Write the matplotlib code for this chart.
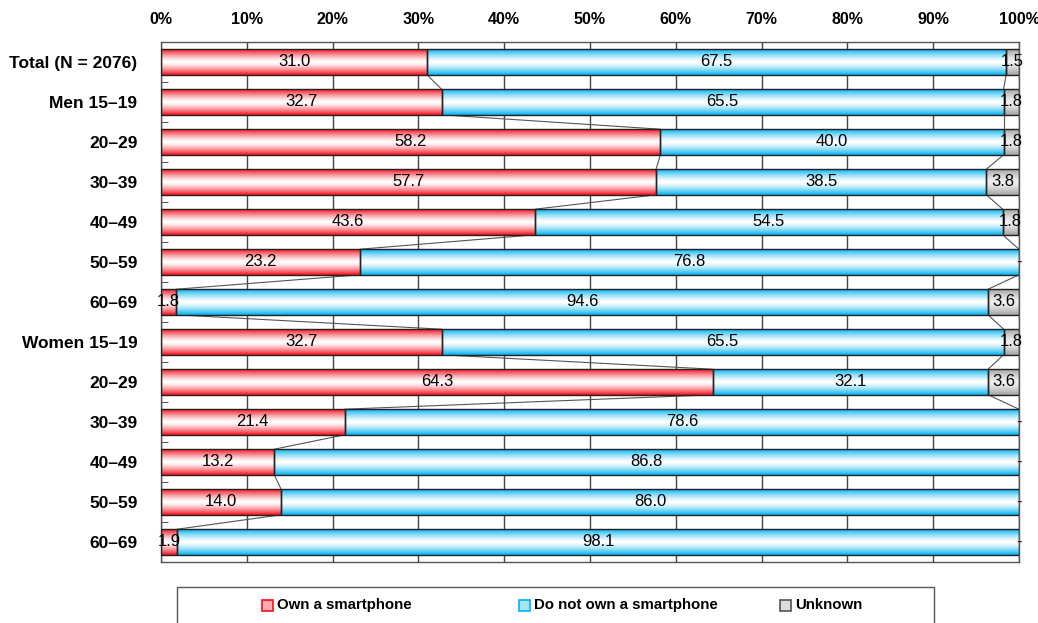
import numpy as np
import matplotlib
matplotlib.use("Agg")
import matplotlib.pyplot as plt
from matplotlib.patches import Rectangle
from matplotlib.colors import to_rgb

plt.rcParams['font.family'] = ['Liberation Sans', 'DejaVu Sans']

categories = ["Total (N = 2076)", "Men 15–19", "20–29", "30–39", "40–49", "50–59", "60–69",
              "Women 15–19", "20–29", "30–39", "40–49", "50–59", "60–69"]
own = [31.0, 32.7, 58.2, 57.7, 43.6, 23.2, 1.8, 32.7, 64.3, 21.4, 13.2, 14.0, 1.9]
not_own = [67.5, 65.5, 40.0, 38.5, 54.5, 76.8, 94.6, 65.5, 32.1, 78.6, 86.8, 86.0, 98.1]
unknown = [1.5, 1.8, 1.8, 3.8, 1.8, 0.0, 3.6, 1.8, 3.6, 0.0, 0.0, 0.0, 0.0]
series_names = ["Own a smartphone", "Do not own a smartphone", "Unknown"]
x_ticks = list(range(0, 101, 10))

edge_colors = ["#f5101c", "#00b2ef", "#a0a0a0"]
mid_colors = ["#ffffff", "#ffffff", "#f0f0f0"]

W, H = 1038, 623
fig = plt.figure(figsize=(W / 100, H / 100), dpi=100)
ax = fig.add_axes([161 / W, 1 - 562 / H, 858 / W, 520 / H])

n = len(categories)
bar_h = 0.64


def gradient(edge, mid, rows=64):
    e = np.array(to_rgb(edge))
    m = np.array(to_rgb(mid))
    t = np.abs(np.linspace(-1, 1, rows))
    w = t ** 1.4
    img = m[None, :] * (1 - w[:, None]) + e[None, :] * w[:, None]
    return img[:, None, :]


grads = [gradient(e, m) for e, m in zip(edge_colors, mid_colors)]

for i in range(n):
    vals = [own[i], not_own[i], unknown[i]]
    left = 0.0
    for k, v in enumerate(vals):
        if v > 0:
            y0, y1 = i - bar_h / 2, i + bar_h / 2
            ax.imshow(grads[k], extent=(left, left + v, y1, y0), aspect='auto',
                      interpolation='bilinear', zorder=2)
            ax.add_patch(Rectangle((left, y0), v, bar_h, fill=False,
                                   edgecolor="#222222", lw=1.0, zorder=3))
            ax.text(left + v / 2, i, f"{v:.1f}", ha='center', va='center',
                    fontsize=12, color='black', zorder=5)
        else:
            ax.text(left + v / 2, i, "-", ha='center', va='center',
                    fontsize=12, color='black', zorder=5)
        left += v

# series lines joining segment boundaries of neighbouring bars
b1 = np.array(own)
b2 = np.array(own) + np.array(not_own)
for i in range(n - 1):
    for b in (b1, b2):
        ax.plot([b[i], b[i + 1]], [i + bar_h / 2, i + 1 - bar_h / 2],
                color="#555555", lw=0.8, zorder=1.5)

ax.set_xlim(0, 100)
ax.set_ylim(n - 0.5, -0.5)
ax.set_xticks(x_ticks)
ax.set_xticklabels([f"{t}%" for t in x_ticks], fontsize=11.5, fontweight='bold')
ax.xaxis.tick_top()
ax.tick_params(axis='x', length=0, pad=11)
ax.set_yticks(range(n))
ax.set_yticklabels(categories, fontsize=12.5, fontweight='bold')
ax.tick_params(axis='y', length=0, pad=17)
ax.set_yticks(np.arange(0.5, n - 0.5, 1), minor=True)
ax.tick_params(axis='y', which='minor', direction='in', length=5, color='#333333')
ax.grid(axis='x', color='#444444', lw=1.0, zorder=0)
ax.set_axisbelow(True)
for s in ax.spines.values():
    s.set_color('#555555')
    s.set_linewidth(1.0)

# legend frame and entries
fig.add_artist(Rectangle((177 / W, 1 - 660 / H), (934 - 177) / W, 73 / H,
                         transform=fig.transFigure, fill=False,
                         edgecolor='#555555', lw=1.0))
legend_x = [267, 524, 785]
ly = 1 - 605 / H
for k, (lx, name) in enumerate(zip(legend_x, series_names)):
    sw, sh = 11 / W, 11 / H
    fig.add_artist(Rectangle((lx / W - sw / 2, ly - sh / 2), sw, sh,
                             transform=fig.transFigure,
                             facecolor=np.array(to_rgb(edge_colors[k])) * 0.35 + 0.65,
                             edgecolor=edge_colors[k] if k < 2 else '#555555', lw=1.2))
    fig.text((lx + 10) / W, ly, name, fontsize=10.8, fontweight='bold',
             ha='left', va='center')

fig.savefig("out.png", dpi=100)
